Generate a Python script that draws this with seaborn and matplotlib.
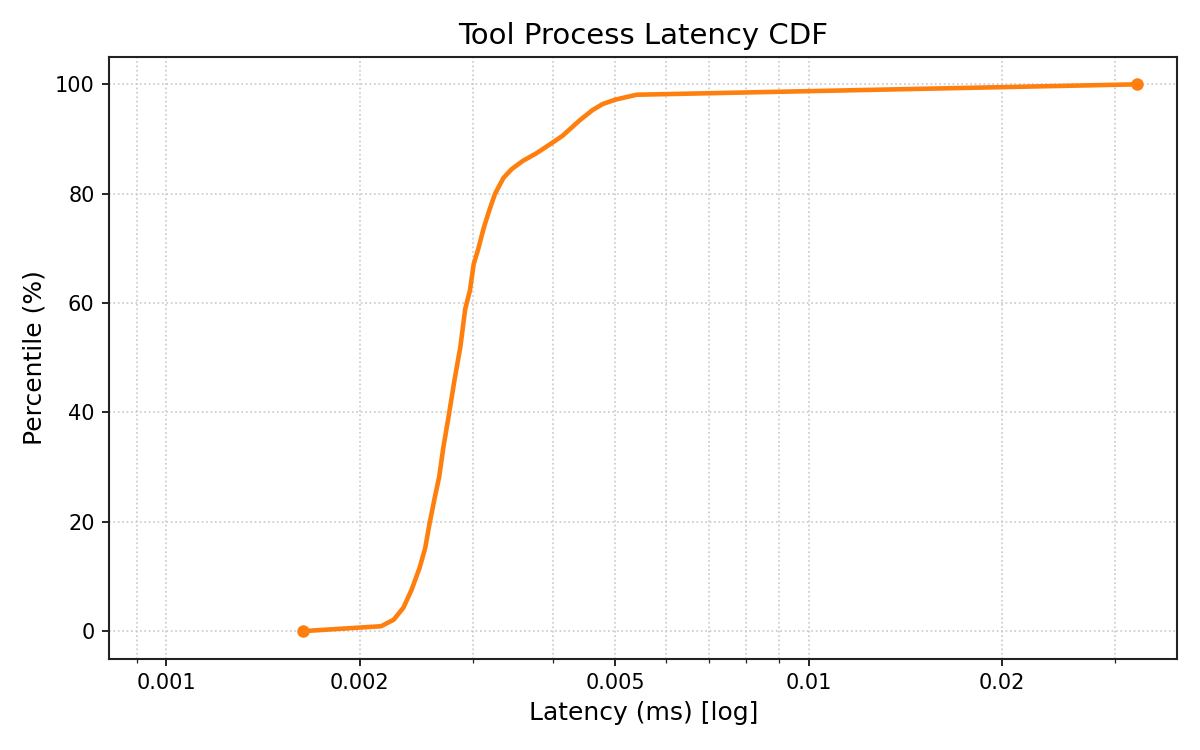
import numpy as np
import pandas as pd
import matplotlib
matplotlib.use('Agg')
import matplotlib.pyplot as plt
import matplotlib.ticker as mticker
import seaborn as sns

# CDF points (latency in ms, percentile in %)
latency_ms = [0.00163, 0.00216, 0.00226, 0.00234, 0.00241, 0.00248, 0.00253,
              0.00257, 0.00262, 0.00266, 0.00270, 0.00275, 0.00281, 0.00287,
              0.00292, 0.00297, 0.00301, 0.00306, 0.00312, 0.00318, 0.00325,
              0.00335, 0.00345, 0.00359, 0.00377, 0.00400, 0.00414, 0.00440,
              0.00461, 0.00478, 0.00500, 0.00540, 0.0324]
percentile = [0, 0.9, 2.1, 4.3, 7.6, 11.6, 15.2,
              19.7, 24.6, 28.2, 33.6, 39.1, 45.9, 52,
              58.9, 62.3, 67.1, 69.9, 73.7, 76.8, 80,
              82.9, 84.5, 86, 87.4, 89.4, 90.6, 93.4,
              95.3, 96.4, 97.2, 98.1, 100]
major_ticks = [0.001, 0.002, 0.005, 0.01, 0.02]
tick_labels = ['0.001', '0.002', '0.005', '0.01', '0.02']

sns.set_style('ticks')
plt.rcParams['font.family'] = ['DejaVu Sans']
plt.rcParams['text.color'] = 'black'
plt.rcParams['axes.labelcolor'] = 'black'

df = pd.DataFrame({'Latency': latency_ms, 'Percentile': percentile})

fig, ax = plt.subplots(figsize=(8, 5), dpi=150)
sns.lineplot(data=df, x='Latency', y='Percentile', ax=ax, color='#ff7f0e',
             linewidth=2.2, marker='o', markersize=6, markeredgewidth=0,
             markevery=[0, len(df) - 1], sort=False)

ax.set_xscale('log')
ax.set_xlim(latency_ms[0] / 2, latency_ms[-1] * 1.157)
ax.xaxis.set_major_locator(mticker.FixedLocator(major_ticks))
ax.xaxis.set_major_formatter(mticker.FixedFormatter(tick_labels))
ax.xaxis.set_minor_locator(mticker.LogLocator(base=10, subs=np.arange(2, 10)))
ax.xaxis.set_minor_formatter(mticker.NullFormatter())

ax.grid(True, which='both', linestyle=':', color='#c8c8c8', linewidth=0.8)
for s in ax.spines.values():
    s.set_color('#222222')
    s.set_linewidth(1)
ax.tick_params(labelsize=10, colors='black')

ax.set_title('Tool Process Latency CDF', fontsize=14, color='black')
ax.set_xlabel('Latency (ms) [log]', fontsize=12)
ax.set_ylabel('Percentile (%)', fontsize=12)

fig.subplots_adjust(left=0.091, right=0.981, top=0.924, bottom=0.122)
fig.savefig('out.png', dpi=150)
